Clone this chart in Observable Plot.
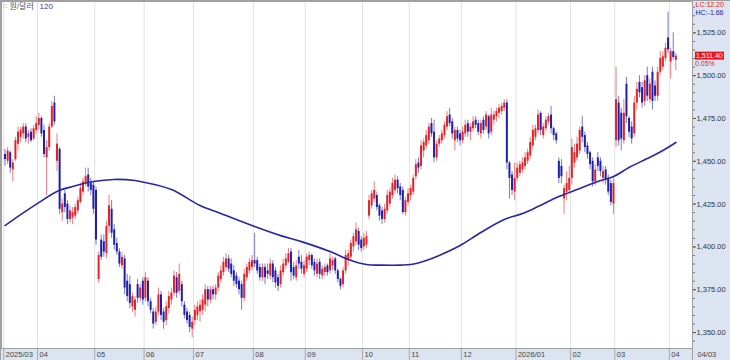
<!DOCTYPE html>
<html><head><meta charset="utf-8">
<script src="https://cdn.jsdelivr.net/npm/d3@7"></script>
<script src="https://cdn.jsdelivr.net/npm/@observablehq/plot@0.6"></script>
<style>
html,body{margin:0;padding:0;background:#fff;}
#chart{width:730px;height:360px;overflow:hidden}
svg{display:block}
</style></head><body><div id="chart"></div>
<script>
// ---- data ----
const months = ["2025/03","04","05","06","07","08","09","10","11","12","2026/01","02","03","04"];
const monthDays = [13,22,19,19,23,20,22,18,20,21,21,17,21,3];

const open = [1454,1450,1455,1445,1451,1460,1464,1466,1470,1464,1467,1463,1468,
1471,1475,1468,1452,1458,1470,1484,1450,1457,1420,1431,1425,1416,1417,1418,1421,1426,1432,1437,1442,1437,1436,
1433,1381,1404,1403,1396,1412,1422,1410,1402,1397,1389,1393,1380,1378,1365,1363,1378,1370,1380,
1370,1380,1368,1362,1356,1362,1372,1362,1357,1364,1369,1373,1382,1374,1378,1366,1362,1360,1352,
1357,1360,1362,1363,1366,1375,1369,1375,1372,1376,1381,1385,1388,1393,1390,1386,1383,1380,1378,1370,1382,1386,1388,
1392,1392,1388,1382,1388,1386,1383,1390,1386,1382,1378,1385,1389,1391,1397,1388,1382,1394,1391,1384,
1387,1392,1395,1391,1384,1391,1383,1385,1389,1386,1389,1393,1386,1381,1378,1386,1392,1394,1400,1403,1409,1404,
1400,1401,1418,1424,1428,1430,1424,1421,1416,1421,1425,1430,1433,1439,1435,1433,1420,1426,
1430,1432,1441,1449,1447,1456,1459,1462,1472,1467,1452,1460,1462,1465,1470,1477,1473,1462,1468,1466,
1462,1466,1472,1467,1469,1474,1472,1466,1474,1470,1476,1467,1474,1476,1478,1479,1481,1484,1449,1442,1432,
1440,1443,1445,1447,1450,1453,1459,1464,1468,1478,1465,1469,1473,1477,1469,1466,1450,1447,1428,1432,1433,
1440,1449,1452,1456,1470,1465,1459,1455,1450,1438,1452,1450,1440,1445,1440,1437,1425,
1462,1484,1478,1462,1495,1475,1470,1466,1484,1496,1493,1485,1500,1486,1502,1494,1488,1502,1505,1510,1522,
1508,1514,1509];
const high = [1457,1458,1456,1451,1464,1470,1470,1472,1472,1468,1469,1471,1476,
1478,1476,1471,1462,1472,1485,1488,1466,1458,1428,1433,1427,1424,1423,1425,1429,1437,1440,1446,1446,1440,1438,
1435,1397,1407,1407,1415,1430,1427,1413,1405,1399,1397,1395,1384,1383,1373,1371,1381,1378,1382,
1385,1382,1370,1364,1365,1376,1374,1364,1368,1374,1376,1386,1385,1390,1380,1368,1364,1362,1359,
1366,1368,1369,1372,1378,1377,1377,1377,1378,1385,1389,1394,1396,1395,1393,1389,1385,1382,1380,1387,1390,1393,1395,
1408,1394,1390,1390,1390,1390,1393,1392,1388,1384,1389,1393,1396,1399,1399,1391,1392,1398,1395,1392,
1396,1397,1396,1393,1393,1393,1389,1390,1390,1396,1394,1394,1387,1382,1388,1398,1398,1404,1408,1414,1411,1406,
1408,1409,1430,1433,1438,1432,1425,1423,1425,1433,1434,1440,1442,1441,1437,1435,1429,1434,
1436,1442,1451,1452,1462,1463,1468,1472,1475,1474,1462,1465,1468,1473,1479,1481,1475,1470,1470,1468,
1470,1474,1474,1472,1476,1476,1474,1474,1476,1479,1477,1481,1479,1481,1483,1484,1486,1486,1450,1444,1449,
1449,1450,1452,1455,1457,1464,1471,1471,1480,1479,1472,1476,1478,1482,1470,1467,1452,1451,1436,1444,1447,
1463,1460,1464,1470,1476,1467,1461,1456,1452,1448,1455,1452,1447,1447,1442,1439,1441,
1505,1488,1481,1486,1499,1476,1473,1488,1496,1500,1496,1500,1505,1498,1505,1497,1505,1514,1514,1519,1537,
1516,1525,1513];
const low = [1447,1448,1443,1438,1450,1456,1461,1463,1461,1460,1461,1462,1466,
1468,1464,1452,1430,1456,1469,1471,1444,1419,1415,1420,1413,1414,1413,1416,1419,1425,1430,1435,1432,1430,1419,
1401,1379,1392,1394,1393,1408,1405,1398,1395,1388,1387,1372,1368,1364,1362,1359,1367,1368,1366,
1368,1365,1361,1352,1354,1360,1357,1352,1354,1361,1366,1371,1370,1372,1365,1358,1355,1350,1347,
1354,1357,1356,1360,1362,1365,1367,1369,1369,1374,1379,1383,1386,1385,1382,1377,1376,1372,1363,1368,1380,1384,1386,
1388,1384,1380,1380,1378,1381,1381,1379,1376,1374,1376,1383,1387,1390,1380,1381,1380,1387,1384,1382,
1385,1389,1387,1383,1382,1381,1381,1383,1383,1384,1386,1384,1379,1375,1376,1384,1389,1392,1397,1401,1398,1397,
1398,1399,1416,1422,1426,1421,1415,1413,1414,1419,1423,1428,1431,1431,1427,1419,1418,1424,
1427,1430,1439,1443,1445,1452,1457,1460,1464,1449,1450,1458,1460,1463,1468,1470,1463,1456,1461,1459,
1460,1464,1464,1462,1467,1469,1465,1463,1466,1468,1463,1465,1471,1473,1475,1477,1479,1445,1428,1430,1427,
1438,1441,1443,1445,1448,1451,1457,1462,1466,1465,1463,1467,1471,1466,1462,1460,1437,1437,1419,1427,1431,
1436,1446,1450,1454,1461,1455,1451,1445,1435,1436,1444,1441,1437,1436,1430,1424,1419,
1458,1459,1456,1460,1472,1464,1460,1464,1480,1487,1481,1482,1485,1484,1480,1485,1485,1500,1503,1508,1513,
1498,1509,1503];
const close = [1451,1456,1446,1449,1462,1467,1468,1470,1463,1466,1462,1469,1472,
1475,1466,1454,1458,1470,1482,1473,1460,1422,1425,1423,1416,1421,1420,1423,1427,1434,1438,1441,1435,1433,1422,
1404,1395,1394,1397,1412,1424,1408,1401,1397,1390,1394,1376,1371,1367,1371,1369,1370,1376,1369,
1382,1368,1363,1355,1362,1372,1360,1356,1365,1371,1373,1383,1373,1384,1368,1360,1357,1353,1356,
1363,1365,1366,1369,1375,1369,1375,1372,1376,1383,1386,1391,1393,1387,1384,1380,1378,1375,1370,1384,1388,1391,1392,
1390,1386,1382,1388,1382,1384,1390,1382,1379,1377,1386,1390,1393,1396,1385,1383,1389,1390,1387,1389,
1394,1395,1389,1386,1390,1384,1387,1388,1385,1393,1392,1386,1381,1377,1386,1395,1396,1402,1406,1410,1401,1399,
1405,1406,1427,1431,1433,1423,1418,1416,1422,1430,1432,1437,1439,1434,1430,1420,1427,1431,
1434,1440,1448,1446,1459,1461,1465,1470,1466,1452,1460,1463,1466,1471,1476,1472,1466,1468,1463,1462,
1467,1471,1467,1470,1473,1471,1467,1472,1468,1477,1466,1477,1477,1479,1481,1482,1484,1449,1440,1433,1440,
1446,1448,1449,1452,1455,1461,1468,1469,1477,1468,1470,1474,1476,1469,1465,1462,1440,1441,1434,1437,1440,
1458,1455,1460,1468,1464,1458,1454,1448,1438,1445,1447,1444,1444,1439,1432,1426,1437,
1486,1462,1463,1478,1476,1467,1463,1484,1492,1490,1484,1497,1488,1495,1485,1488,1502,1510,1511,1516,1515,
1514,1510.6,1511.4];

// 120-day moving average, read at selected trading days
const maIndex = [0,6,13,20,26,34,42,50,54,64,75,83,96,106,114,126,132,139,145,152,156,162,167,175,183,192,199,205,213,220,228,234,240,247,253,258];
const maValue = [1412.5,1418.9,1425.9,1432.4,1435.3,1438.2,1439.4,1438.8,1437.6,1433.5,1424.2,1419.5,1411.9,1406.6,1403.1,1396.7,1392.6,1389.7,1389.4,1389.4,1389.7,1392.1,1395.0,1400.8,1408.4,1416.0,1419.5,1423.6,1429.4,1433.5,1438.2,1441.1,1446.4,1451.6,1456.3,1461.0];

const yTicks = [1350,1375,1400,1425,1450,1475,1500,1525];
const yMinorTicks = d3.range(1345, 1545, 5);
const titleText = "원/달러";
const periodText = "120";
const lcText = "LC:12.20";
const hcText = "HC:-1.66";
const lastText = "1,511.40";
const changeText = "0.05%";
const lastDateText = "04/03";

// ---- build ----
const candles = close.map((c, i) => ({i, o: open[i], h: high[i], l: low[i], c, col: c >= open[i] ? "#e0242a" : "#2020b0"}));
const starts = [];
monthDays.reduce((s, d) => { starts.push(s); return s + d; }, 0);
const monthTicks = starts.map((st, k) => ({x: st - 0.5, label: months[k]}));
const ma = maIndex.map((i, k) => ({i, v: maValue[k]}));

const FONT = "'Liberation Sans','Noto Sans CJK KR',Arial,sans-serif";
const W = 730, H = 360, mL = 1, mR = 38, mT = 1, mB = 12;

const plot = Plot.plot({
  width: W, height: H, marginLeft: mL, marginRight: mR, marginTop: mT, marginBottom: mB,
  style: {background: "#dbe4f0", fontFamily: FONT, fontSize: "7.5px", color: "#333", overflow: "visible"},
  x: {type: "linear", domain: [-1.35, 264.4], axis: null},
  y: {domain: [1340.7, 1543.3], axis: null},
  marks: [
    Plot.frame({fill: "white"}),
    Plot.ruleX(monthTicks, {x: "x", stroke: "#e2e2e2", strokeWidth: 1}),
    Plot.ruleX(candles, {x: "i", y1: "l", y2: "h", stroke: "col", strokeOpacity: 0.6, strokeWidth: 1}),
    Plot.ruleX(candles, {x: "i", y1: "o", y2: "c", stroke: "col", strokeWidth: 2}),
    Plot.line(ma, {x: "i", y: "v", stroke: "#2626a6", strokeWidth: 1.6, curve: "catmull-rom"}),
    Plot.axisY({anchor: "right", ticks: yMinorTicks, tickSize: 2, tickFormat: () => "", stroke: "#777"}),
    Plot.axisY({anchor: "right", ticks: yTicks, tickSize: 3, tickPadding: 1, tickFormat: d3.format(",.2f"), stroke: "#555", fill: "#333", fontSize: 7.5}),
    Plot.axisX({anchor: "bottom", ticks: monthTicks.map(d => d.x), tickSize: 12, tickFormat: () => "", stroke: "#a9a9a9"}),
    Plot.text(monthTicks, {x: "x", text: "label", frameAnchor: "bottom", dy: 6.5, dx: 2, textAnchor: "start", lineAnchor: "middle", fill: "#444", fontSize: 7.5}),
    Plot.frame({stroke: "#a0a0a0"}),
    Plot.text(["□"], {frameAnchor: "top-left", dx: 2, dy: 4.5, text: d => d, textAnchor: "start", lineAnchor: "middle", fill: "#999", fontSize: 6}),
    Plot.text([titleText], {frameAnchor: "top-left", dx: 8, dy: 5, text: d => d, textAnchor: "start", lineAnchor: "middle", fill: "#555", fontSize: 8}),
    Plot.text([periodText], {frameAnchor: "top-left", dx: 38, dy: 5, text: d => d, textAnchor: "start", lineAnchor: "middle", fill: "#3a3aa8", fontSize: 8}),
    Plot.text([lcText], {frameAnchor: "top-right", dx: 3, dy: 3.5, text: d => d, textAnchor: "start", lineAnchor: "middle", fill: "#e0242a", fontSize: 7}),
    Plot.text([hcText], {frameAnchor: "top-right", dx: 3, dy: 11.5, text: d => d, textAnchor: "start", lineAnchor: "middle", fill: "#2020b0", fontSize: 7}),
    Plot.text([lastDateText], {frameAnchor: "bottom-right", dx: 5, dy: 6.5, text: d => d, textAnchor: "start", lineAnchor: "middle", fill: "#444", fontSize: 7.5})
  ]
});

document.getElementById("chart").appendChild(plot);

// last price box on the right panel, positioned through the y scale
const svg = d3.select(plot);
const yS = plot.scale("y");
const lastVal = close[close.length - 1];
const yy = yS.apply(lastVal);
const xr = W - mR;
const g = svg.append("g").attr("font-family", FONT).attr("text-anchor", "start");
g.append("rect").attr("x", xr + 3).attr("y", yy - 4).attr("width", 29).attr("height", 8).attr("fill", "#e8141c");
g.append("text").attr("x", xr + 4).attr("y", yy).attr("dy", "0.35em").attr("fill", "white").attr("font-size", 7).attr("text-anchor", "start").text(lastText);
g.append("text").attr("x", xr + 3).attr("y", yy + 8).attr("dy", "0.35em").attr("fill", "#e0242a").attr("font-size", 7).attr("text-anchor", "start").text(changeText);
// panel borders
g.append("line").attr("x1", 0).attr("x2", W).attr("y1", 0.5).attr("y2", 0.5).attr("stroke", "#a0a0a0");
g.append("line").attr("x1", xr + 0.5).attr("x2", xr + 0.5).attr("y1", H - mB).attr("y2", H).attr("stroke", "#a0a0a0");
g.append("line").attr("x1", 0.5).attr("x2", 0.5).attr("y1", 0).attr("y2", H).attr("stroke", "#a0a0a0");
</script></body></html>
